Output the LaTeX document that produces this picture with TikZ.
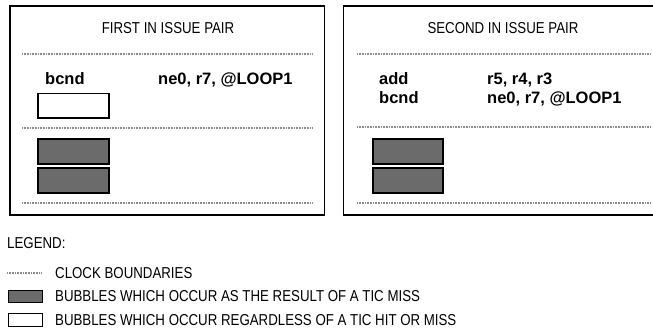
\documentclass[tikz,border=0pt]{standalone}
\usepackage{fontspec}
\setmainfont{Liberation Sans}
\newfontfamily\narrowsans[FakeStretch=0.84]{Liberation Sans}
\begin{document}
\begin{tikzpicture}[x=1pt,y=-1pt,
  frame/.style={draw=black,line width=1.6pt},
  clockline/.style={draw=black!45,line width=1.8pt,dash pattern=on 0.8pt off 0.8pt},
  missbox/.style={draw=black,line width=1.2pt,fill=black!58},
  hitbox/.style={draw=black,line width=1.1pt,fill=white},
  title/.style={anchor=base,inner sep=0pt,font=\narrowsans\fontsize{15.8}{17}\selectfont},
  instr/.style={anchor=base west,inner sep=0pt,font=\fontsize{16.5}{18}\selectfont\bfseries},
  legtext/.style={anchor=base west,inner sep=0pt,font=\narrowsans\fontsize{15.8}{17}\selectfont}]
\useasboundingbox (0,0) rectangle (653,334);
% left panel
\draw[frame] (10,6) rectangle (324.5,215);
\node[title] (t1) at (168,34) {FIRST IN ISSUE PAIR};
\draw[clockline] (22,54) -- (313,54);
\node[instr] (l1op) at (45,85) {bcnd};
\node[instr] (l1arg) at (158,85) {ne0, r7, @LOOP1};
\draw[hitbox] (38,93.5) rectangle (109,118);
\draw[clockline] (22,128) -- (313,128);
\draw[missbox] (38,139) rectangle (109,164);
\draw[missbox] (38,168) rectangle (109,193);
\draw[clockline] (22,203) -- (313,203);
% right panel
\draw[frame] (660,6) -- (343.5,6) -- (343.5,215) -- (660,215);
\node[title] (t2) at (503,34) {SECOND IN ISSUE PAIR};
\draw[clockline] (357,54) -- (650,54);
\node[instr] (r1op) at (379,85) {add};
\node[instr] (r1arg) at (487,85) {r5, r4, r3};
\node[instr] (r2op) at (379,104) {bcnd};
\node[instr] (r2arg) at (487,104) {ne0, r7, @LOOP1};
\draw[clockline] (357,127) -- (650,127);
\draw[missbox] (373,139) rectangle (443,164);
\draw[missbox] (373,168) rectangle (443,193);
\draw[clockline] (357,203) -- (650,203);
% legend
\node[legtext] (leg) at (7,248) {LEGEND:};
\draw[clockline,line width=1.4pt] (7,273) -- (42,273);
\node[legtext] (lg1) at (55,278) {CLOCK BOUNDARIES};
\draw[missbox,line width=1pt] (8,290) rectangle (42,302);
\node[legtext] (lg2) at (55,301) {BUBBLES WHICH OCCUR AS THE RESULT OF A TIC MISS};
\draw[hitbox,line width=1pt] (8,313) rectangle (42,326);
\node[legtext] (lg3) at (55,325.5) {BUBBLES WHICH OCCUR REGARDLESS OF A TIC HIT OR MISS};
\end{tikzpicture}
\end{document}
